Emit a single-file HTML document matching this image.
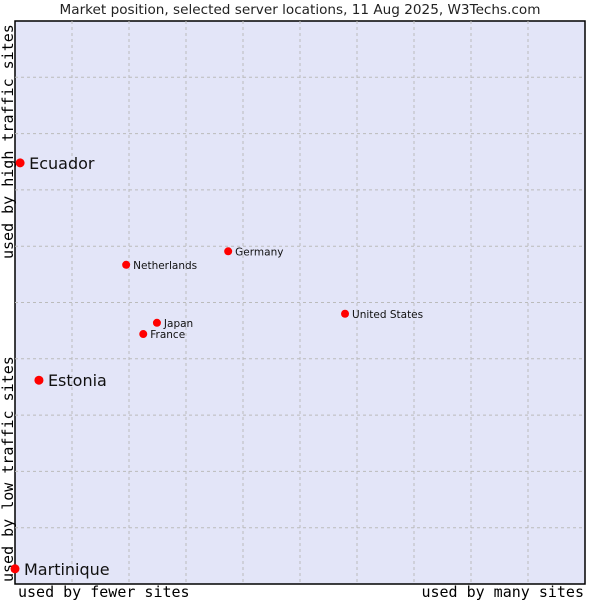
<!DOCTYPE html>
<html><head><meta charset="utf-8"><style>
html,body{margin:0;padding:0;background:#fff;width:600px;height:600px;overflow:hidden}
</style></head><body>
<svg width="600" height="600" xmlns="http://www.w3.org/2000/svg">
<text x="300" y="14" text-anchor="middle" font-family="DejaVu Sans, sans-serif" font-size="13.6" fill="#222">Market position, selected server locations, 11 Aug 2025, W3Techs.com</text>
<rect x="15" y="21" width="570" height="563" fill="#e3e5f8" stroke="#000" stroke-width="1.5"/>
<g id="grid"></g>
<text x="18" y="597" font-family="DejaVu Sans Mono, monospace" font-size="15" fill="#000">used by fewer sites</text>
<text x="584" y="597" text-anchor="end" font-family="DejaVu Sans Mono, monospace" font-size="15" fill="#000">used by many sites</text>
<text transform="translate(13,582) rotate(-90)" font-family="DejaVu Sans Mono, monospace" font-size="15" fill="#000">used by low traffic sites</text>
<text transform="translate(13,259) rotate(-90)" font-family="DejaVu Sans Mono, monospace" font-size="15" fill="#000">used by high traffic sites</text>
<g id="points"></g>
</svg>
<script>
const names = ["Ecuador","Estonia","Martinique","Netherlands","Germany","United States","Japan","France"];
const xValues = [0.9, 4.2, 0.0, 19.5, 37.4, 57.9, 24.9, 22.5];
const yValues = [74.8, 36.2, 2.7, 56.7, 59.1, 48.0, 46.4, 44.4];
const bigLabel = [true, true, true, false, false, false, false, false];
const NS="http://www.w3.org/2000/svg";
const L=15,T=21,W=570,H=563;
function sx(v){return L+v/100*W;}
function sy(v){return T+H-v/100*H;}
const grid=document.getElementById('grid');
for(let i=1;i<10;i++){
  const vx=document.createElementNS(NS,'line');
  vx.setAttribute('x1',L+i*W/10);vx.setAttribute('x2',L+i*W/10);
  vx.setAttribute('y1',T);vx.setAttribute('y2',T+H);
  vx.setAttribute('stroke','#bbb');vx.setAttribute('stroke-dasharray','3,3');
  
  
  grid.appendChild(vx);
  const hy=document.createElementNS(NS,'line');
  hy.setAttribute('y1',T+i*H/10);hy.setAttribute('y2',T+i*H/10);
  hy.setAttribute('x1',L);hy.setAttribute('x2',L+W);
  hy.setAttribute('stroke','#bbb');hy.setAttribute('stroke-dasharray','3,3');
  
  
  grid.appendChild(hy);
}
const pts=document.getElementById('points');
names.forEach((n,i)=>{
  const x=sx(xValues[i]),y=sy(yValues[i]);
  const d=document.createElementNS(NS,'circle');
  d.setAttribute('cx',x);d.setAttribute('cy',y);
  d.setAttribute('r',bigLabel[i]?4.5:4);
  d.setAttribute('fill','#f00');
  
  
  pts.appendChild(d);
  const t=document.createElementNS(NS,'text');
  t.setAttribute('x',x+(bigLabel[i]?9:7));
  t.setAttribute('y',y+(bigLabel[i]?6:4));
  t.setAttribute('font-family','DejaVu Sans, sans-serif');
  t.setAttribute('font-size',bigLabel[i]?'16':'10.5');
  t.setAttribute('fill','#111');
  t.textContent=n;
  
  
  pts.appendChild(t);
});
</script>
</body></html>
